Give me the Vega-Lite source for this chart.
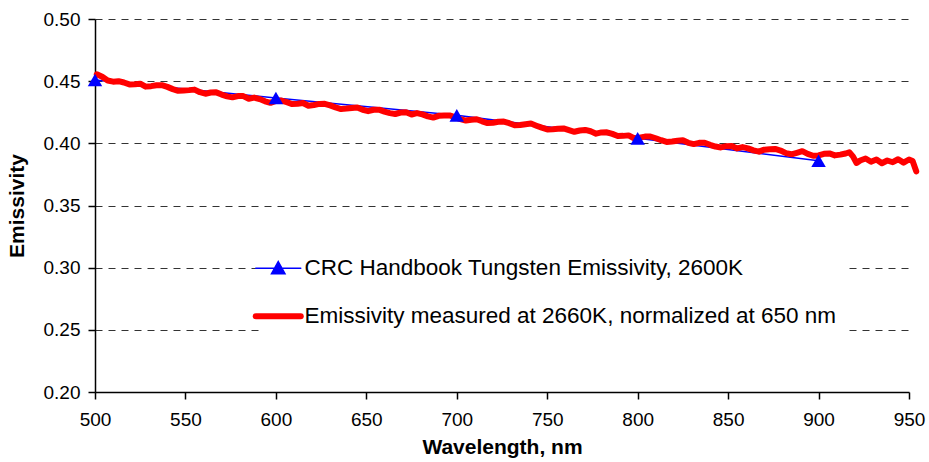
{
  "$schema": "https://vega.github.io/schema/vega-lite/v6.json",
  "width": 814,
  "height": 373,
  "padding": {"left": 6, "top": 10, "right": 10, "bottom": 2},
  "background": "white",
  "config": {
    "view": {"stroke": null},
    "font": "Liberation Sans",
    "axis": {
      "labelFont": "Liberation Sans",
      "titleFont": "Liberation Sans",
      "labelColor": "black",
      "titleColor": "black",
      "domainColor": "black",
      "tickColor": "black",
      "domainWidth": 1.5,
      "tickWidth": 1.5,
      "tickSize": 7,
      "labelFontSize": 19,
      "titleFontSize": 21,
      "titleFontWeight": "bold"
    }
  },
  "datasets": {
    "crc": [
      {"series": "CRC Handbook Tungsten Emissivity, 2600K", "nm": 500, "e": 0.451},
      {"series": "CRC Handbook Tungsten Emissivity, 2600K", "nm": 600, "e": 0.4365},
      {"series": "CRC Handbook Tungsten Emissivity, 2600K", "nm": 700, "e": 0.4225},
      {"series": "CRC Handbook Tungsten Emissivity, 2600K", "nm": 800, "e": 0.404},
      {"series": "CRC Handbook Tungsten Emissivity, 2600K", "nm": 900, "e": 0.386}
    ],
    "meas": [
      {"nm": 501, "e": 0.4555}, {"nm": 504, "e": 0.4535}, {"nm": 507, "e": 0.4505}, {"nm": 510, "e": 0.4496},
      {"nm": 513, "e": 0.45}, {"nm": 516, "e": 0.4489}, {"nm": 519, "e": 0.4474}, {"nm": 522, "e": 0.4476},
      {"nm": 525, "e": 0.448}, {"nm": 528, "e": 0.4456}, {"nm": 531, "e": 0.446}, {"nm": 534, "e": 0.4467},
      {"nm": 537, "e": 0.4468}, {"nm": 540, "e": 0.4454}, {"nm": 543, "e": 0.4436}, {"nm": 546, "e": 0.4422},
      {"nm": 549, "e": 0.4425}, {"nm": 552, "e": 0.4428}, {"nm": 555, "e": 0.4432}, {"nm": 558, "e": 0.4411},
      {"nm": 561, "e": 0.4399}, {"nm": 564, "e": 0.4409}, {"nm": 567, "e": 0.441}, {"nm": 570, "e": 0.4392},
      {"nm": 573, "e": 0.4378}, {"nm": 576, "e": 0.437}, {"nm": 579, "e": 0.438}, {"nm": 582, "e": 0.438},
      {"nm": 585, "e": 0.4359}, {"nm": 588, "e": 0.4368}, {"nm": 591, "e": 0.4356}, {"nm": 594, "e": 0.4338},
      {"nm": 597, "e": 0.4326}, {"nm": 600, "e": 0.4341}, {"nm": 603, "e": 0.4344}, {"nm": 606, "e": 0.4331},
      {"nm": 609, "e": 0.4316}, {"nm": 612, "e": 0.4318}, {"nm": 615, "e": 0.4324}, {"nm": 618, "e": 0.4302},
      {"nm": 621, "e": 0.4308}, {"nm": 624, "e": 0.4317}, {"nm": 627, "e": 0.4318}, {"nm": 630, "e": 0.4305},
      {"nm": 633, "e": 0.4289}, {"nm": 636, "e": 0.4276}, {"nm": 639, "e": 0.428}, {"nm": 642, "e": 0.4285},
      {"nm": 645, "e": 0.4289}, {"nm": 648, "e": 0.427}, {"nm": 651, "e": 0.4259}, {"nm": 654, "e": 0.427},
      {"nm": 657, "e": 0.4271}, {"nm": 660, "e": 0.4255}, {"nm": 663, "e": 0.4243}, {"nm": 666, "e": 0.4236},
      {"nm": 669, "e": 0.4248}, {"nm": 672, "e": 0.425}, {"nm": 675, "e": 0.4232}, {"nm": 678, "e": 0.4243},
      {"nm": 681, "e": 0.4233}, {"nm": 684, "e": 0.4217}, {"nm": 687, "e": 0.4207}, {"nm": 690, "e": 0.4221},
      {"nm": 693, "e": 0.4223}, {"nm": 696, "e": 0.4224}, {"nm": 699, "e": 0.4211}, {"nm": 702, "e": 0.4194},
      {"nm": 705, "e": 0.4183}, {"nm": 708, "e": 0.419}, {"nm": 711, "e": 0.4194}, {"nm": 714, "e": 0.4177},
      {"nm": 717, "e": 0.4163}, {"nm": 720, "e": 0.4166}, {"nm": 723, "e": 0.4174}, {"nm": 726, "e": 0.4175},
      {"nm": 729, "e": 0.4162}, {"nm": 732, "e": 0.4145}, {"nm": 735, "e": 0.4147}, {"nm": 738, "e": 0.4154},
      {"nm": 741, "e": 0.4159}, {"nm": 744, "e": 0.4142}, {"nm": 747, "e": 0.4126}, {"nm": 750, "e": 0.4112},
      {"nm": 753, "e": 0.4114}, {"nm": 756, "e": 0.4118}, {"nm": 759, "e": 0.412}, {"nm": 762, "e": 0.4106},
      {"nm": 765, "e": 0.4093}, {"nm": 768, "e": 0.4103}, {"nm": 771, "e": 0.4108}, {"nm": 774, "e": 0.4097},
      {"nm": 777, "e": 0.4078}, {"nm": 780, "e": 0.4088}, {"nm": 783, "e": 0.4089}, {"nm": 786, "e": 0.4076},
      {"nm": 789, "e": 0.4059}, {"nm": 792, "e": 0.406}, {"nm": 795, "e": 0.4064}, {"nm": 798, "e": 0.4041},
      {"nm": 801, "e": 0.4046}, {"nm": 804, "e": 0.4054}, {"nm": 807, "e": 0.4055}, {"nm": 810, "e": 0.4041},
      {"nm": 813, "e": 0.4025}, {"nm": 816, "e": 0.4011}, {"nm": 819, "e": 0.4015}, {"nm": 822, "e": 0.402},
      {"nm": 825, "e": 0.4024}, {"nm": 828, "e": 0.4004}, {"nm": 831, "e": 0.3994}, {"nm": 834, "e": 0.4004},
      {"nm": 837, "e": 0.4005}, {"nm": 840, "e": 0.3988}, {"nm": 843, "e": 0.3974}, {"nm": 846, "e": 0.3967},
      {"nm": 849, "e": 0.3977}, {"nm": 852, "e": 0.3979}, {"nm": 855, "e": 0.3959}, {"nm": 858, "e": 0.397},
      {"nm": 861, "e": 0.3959}, {"nm": 864, "e": 0.3943}, {"nm": 867, "e": 0.3933}, {"nm": 870, "e": 0.3949},
      {"nm": 873, "e": 0.3953}, {"nm": 876, "e": 0.3955}, {"nm": 879, "e": 0.3942}, {"nm": 882, "e": 0.3921},
      {"nm": 885, "e": 0.3912}, {"nm": 888, "e": 0.3924}, {"nm": 891, "e": 0.3937}, {"nm": 894, "e": 0.3915},
      {"nm": 897, "e": 0.39}, {"nm": 900, "e": 0.3903}, {"nm": 903, "e": 0.3916}, {"nm": 906, "e": 0.3919},
      {"nm": 909, "e": 0.3903}, {"nm": 912, "e": 0.3909}, {"nm": 915, "e": 0.3918}, {"nm": 917, "e": 0.3928},
      {"nm": 919, "e": 0.3895}, {"nm": 921, "e": 0.3842}, {"nm": 923, "e": 0.3862}, {"nm": 926, "e": 0.3878},
      {"nm": 929, "e": 0.3852}, {"nm": 932, "e": 0.387}, {"nm": 935, "e": 0.384}, {"nm": 938, "e": 0.3862},
      {"nm": 941, "e": 0.3848}, {"nm": 944, "e": 0.3872}, {"nm": 947, "e": 0.3845}, {"nm": 950, "e": 0.387},
      {"nm": 952, "e": 0.3858}, {"nm": 954, "e": 0.3775}
    ]
  },
  "encoding": {
    "x": {
      "field": "nm", "type": "quantitative",
      "scale": {"domain": [500, 950], "nice": false, "zero": false},
      "axis": {
        "title": "Wavelength, nm",
        "values": [500, 550, 600, 650, 700, 750, 800, 850, 900, 950],
        "grid": false,
        "labelPadding": 11,
        "titlePadding": 7,
        "labelFlush": false,
        "labelOverlap": false
      }
    },
    "y": {
      "field": "e", "type": "quantitative",
      "scale": {"domain": [0.2, 0.5], "nice": false, "zero": false},
      "axis": {
        "title": "Emissivity",
        "values": [0.2, 0.25, 0.3, 0.35, 0.4, 0.45, 0.5],
        "format": ".2f",
        "grid": true,
        "gridDash": [7, 6],
        "gridColor": "#333333",
        "gridWidth": 1,
        "labelPadding": 8,
        "titlePadding": 16,
        "labelFlush": false,
        "labelOverlap": false
      }
    }
  },
  "layer": [
    {
      "data": {"name": "crc"},
      "mark": {"type": "line", "strokeWidth": 1.5, "clip": false},
      "encoding": {
        "color": {
          "field": "series", "type": "nominal",
          "scale": {
            "domain": ["CRC Handbook Tungsten Emissivity, 2600K", "Emissivity measured at 2660K, normalized at 650 nm"],
            "range": ["#0000ff", "#ff0000"]
          },
          "legend": {
            "title": null,
            "orient": "none",
            "legendX": 164,
            "legendY": 230,
            "padding": 8,
            "fillColor": "white",
            "strokeColor": null,
            "symbolSize": 2025,
            "rowPadding": 24,
            "labelOffset": 15,
            "labelFont": "Liberation Sans",
            "labelFontSize": 22.5,
            "labelColor": "black",
            "labelLimit": 900,
            "encode": {
              "symbols": {
                "update": {
                  "shape": {"signal": "datum.value === 'CRC Handbook Tungsten Emissivity, 2600K' ? 'M-1,0L1,0M0,-0.3L0.3,0.24L-0.3,0.24Z' : 'M-1,0L1,0'"},
                  "strokeWidth": {"signal": "datum.value === 'CRC Handbook Tungsten Emissivity, 2600K' ? 1.5 : 6"},
                  "fill": {"signal": "datum.value === 'CRC Handbook Tungsten Emissivity, 2600K' ? '#0000ff' : 'transparent'"},
                  "stroke": {"signal": "datum.value === 'CRC Handbook Tungsten Emissivity, 2600K' ? '#0000ff' : '#ff0000'"},
                  "size": {"value": 2025},
                  "opacity": {"value": 1},
                  "strokeCap": {"value": "round"}
                }
              }
            }
          }
        }
      }
    },
    {
      "data": {"name": "meas"},
      "mark": {"type": "line", "strokeWidth": 6, "strokeCap": "round", "strokeJoin": "round", "clip": false, "color": "#ff0000"},
      "encoding": {
        "color": {"datum": "Emissivity measured at 2660K, normalized at 650 nm", "type": "nominal"}
      }
    },
    {
      "data": {"name": "crc"},
      "mark": {"type": "point", "shape": "triangle-up", "filled": true, "size": 210, "color": "#0000ff", "opacity": 1, "clip": false},
      "encoding": {}
    }
  ]
}
